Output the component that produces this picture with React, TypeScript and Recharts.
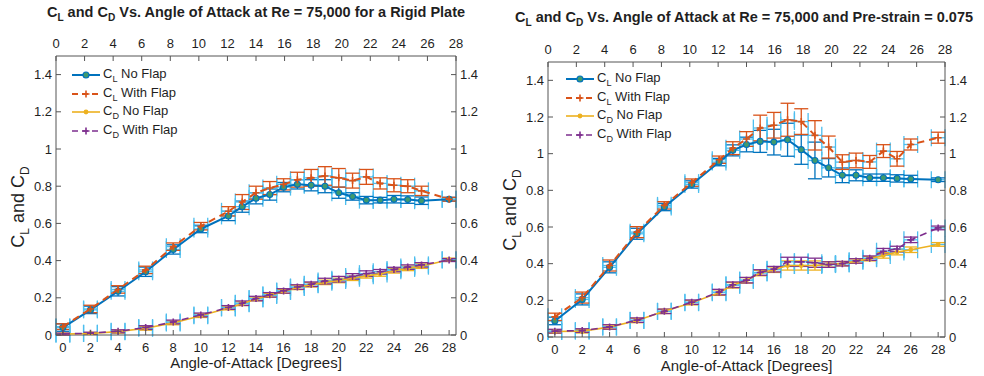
import React from 'react';
import { ComposedChart, Scatter, XAxis, YAxis, ErrorBar, Legend } from 'recharts';

const FONT = '"Liberation Sans", Arial, Helvetica, sans-serif';
const AXIS = '#555555';
const INK = '#1f1f1f';
const BLUE = '#0072BD';
const RED = '#D95319';
const ORANGE = '#EDB120';
const PURPLE = '#7E2F8E';
const SKY = '#4DBEEE';
const GREEN = '#3f9a6e';

// shared axis values
const angles = [0, 2, 4, 6, 8, 10, 12, 13, 14, 15, 16, 17, 18, 19, 20, 21, 22, 23, 24, 25, 26, 28];
const angleTicks = [0, 2, 4, 6, 8, 10, 12, 14, 16, 18, 20, 22, 24, 26, 28];
const coeffTicks = [0, 0.2, 0.4, 0.6, 0.8, 1, 1.2, 1.4];
const angleErr = 0.5;

// rigid plate
const rigidClNoFlap = [0.04, 0.135, 0.235, 0.34, 0.46, 0.57, 0.64, 0.69, 0.735, 0.755, 0.795, 0.81, 0.805, 0.8, 0.765, 0.745, 0.725, 0.725, 0.73, 0.728, 0.722, 0.73];
const rigidClNoFlapErr = [0.02, 0.02, 0.025, 0.025, 0.025, 0.02, 0.025, 0.03, 0.03, 0.03, 0.025, 0.025, 0.03, 0.035, 0.03, 0.02, 0.02, 0.015, 0.02, 0.02, 0.02, 0.01];
const rigidClFlap = [0.045, 0.14, 0.245, 0.35, 0.475, 0.585, 0.665, 0.715, 0.765, 0.79, 0.81, 0.835, 0.845, 0.855, 0.845, 0.83, 0.85, 0.815, 0.805, 0.8, 0.775, 0.73];
const rigidClFlapErr = [0.015, 0.02, 0.02, 0.02, 0.02, 0.02, 0.025, 0.04, 0.035, 0.035, 0.03, 0.04, 0.045, 0.05, 0.05, 0.04, 0.04, 0.03, 0.035, 0.035, 0.025, 0.01];
const rigidCdNoFlap = [0.005, 0.008, 0.018, 0.036, 0.065, 0.104, 0.145, 0.168, 0.194, 0.213, 0.234, 0.256, 0.27, 0.283, 0.293, 0.305, 0.318, 0.328, 0.345, 0.358, 0.37, 0.405];
const rigidCdNoFlapErr = [0.005, 0.005, 0.008, 0.01, 0.01, 0.01, 0.01, 0.01, 0.01, 0.01, 0.01, 0.012, 0.012, 0.012, 0.012, 0.012, 0.012, 0.012, 0.012, 0.012, 0.012, 0.008];
const rigidCdFlap = [0.005, 0.01, 0.02, 0.04, 0.07, 0.108, 0.148, 0.171, 0.196, 0.216, 0.237, 0.258, 0.273, 0.29, 0.3, 0.315, 0.33, 0.34, 0.352, 0.365, 0.377, 0.403];
const rigidCdFlapErr = [0.005, 0.005, 0.008, 0.01, 0.01, 0.01, 0.01, 0.012, 0.012, 0.012, 0.012, 0.012, 0.012, 0.015, 0.015, 0.015, 0.015, 0.012, 0.012, 0.012, 0.012, 0.008];

// pre-strain = 0.075
const strainClNoFlap = [0.087, 0.205, 0.38, 0.563, 0.709, 0.832, 0.954, 1.018, 1.05, 1.067, 1.063, 1.076, 1.022, 0.963, 0.923, 0.882, 0.882, 0.869, 0.869, 0.865, 0.862, 0.858];
const strainClNoFlapErr = [0.02, 0.03, 0.03, 0.03, 0.02, 0.02, 0.02, 0.03, 0.04, 0.06, 0.07, 0.09, 0.08, 0.1, 0.05, 0.04, 0.03, 0.02, 0.02, 0.02, 0.02, 0.01];
const strainClFlap = [0.11, 0.215, 0.39, 0.572, 0.718, 0.842, 0.967, 1.03, 1.08, 1.14, 1.155, 1.185, 1.175, 1.1, 1.036, 0.954, 0.963, 0.955, 1.014, 0.972, 1.05, 1.087];
const strainClFlapErr = [0.02, 0.03, 0.03, 0.03, 0.02, 0.02, 0.02, 0.035, 0.04, 0.07, 0.07, 0.09, 0.07, 0.08, 0.06, 0.04, 0.04, 0.035, 0.035, 0.04, 0.03, 0.03];
const strainCdNoFlap = [0.03, 0.032, 0.054, 0.09, 0.14, 0.187, 0.242, 0.282, 0.309, 0.349, 0.367, 0.39, 0.39, 0.39, 0.396, 0.4, 0.414, 0.427, 0.445, 0.463, 0.476, 0.505];
const strainCdNoFlapErr = [0.01, 0.01, 0.012, 0.012, 0.012, 0.012, 0.015, 0.015, 0.015, 0.015, 0.015, 0.025, 0.025, 0.025, 0.015, 0.012, 0.012, 0.012, 0.015, 0.015, 0.015, 0.01];
const strainCdFlap = [0.032, 0.035, 0.055, 0.092, 0.14, 0.19, 0.245, 0.285, 0.31, 0.352, 0.37, 0.41, 0.41, 0.405, 0.395, 0.4, 0.415, 0.43, 0.468, 0.48, 0.53, 0.595];
const strainCdFlapErr = [0.01, 0.01, 0.012, 0.012, 0.012, 0.012, 0.015, 0.015, 0.015, 0.015, 0.015, 0.025, 0.025, 0.025, 0.015, 0.012, 0.012, 0.012, 0.015, 0.015, 0.015, 0.01];

type MarkerKind = 'circle' | 'plus' | 'dot';

interface SeriesDef {
  coeff: string;
  text: string;
  color: string;
  dash?: string;
  width: number;
  marker: MarkerKind;
  values: number[];
  errors: number[];
}

const toRows = (values: number[], errors: number[]) =>
  angles.map((a, i) => ({ x: a, y: values[i], ye: errors[i], xe: angleErr }));

// lets the axes without a series still know their data range
const angleRows = angles.map((a) => ({ x: a }));

const makeSeries = (clNo: number[], clNoE: number[], clF: number[], clFE: number[], cdNo: number[], cdNoE: number[], cdF: number[], cdFE: number[]): SeriesDef[] => [
  { coeff: 'L', text: 'No Flap', color: BLUE, width: 2, marker: 'circle', values: clNo, errors: clNoE },
  { coeff: 'L', text: 'With Flap', color: RED, dash: '7 5', width: 2, marker: 'plus', values: clF, errors: clFE },
  { coeff: 'D', text: 'No Flap', color: ORANGE, width: 1.6, marker: 'dot', values: cdNo, errors: cdNoE },
  { coeff: 'D', text: 'With Flap', color: PURPLE, dash: '7 5', width: 1.6, marker: 'plus', values: cdF, errors: cdFE },
];

const rigidSeries = makeSeries(rigidClNoFlap, rigidClNoFlapErr, rigidClFlap, rigidClFlapErr, rigidCdNoFlap, rigidCdNoFlapErr, rigidCdFlap, rigidCdFlapErr);
const strainSeries = makeSeries(strainClNoFlap, strainClNoFlapErr, strainClFlap, strainClFlapErr, strainCdNoFlap, strainCdNoFlapErr, strainCdFlap, strainCdFlapErr);

const Marker = ({ kind, cx, cy, color }: { kind: MarkerKind; cx: number; cy: number; color: string }) => {
  if (kind === 'circle') return <circle cx={cx} cy={cy} r={3} fill={GREEN} stroke={color} strokeWidth={1.1} />;
  if (kind === 'dot') return <circle cx={cx} cy={cy} r={2.4} fill={color} />;
  return <path d={`M${cx - 3.5},${cy}H${cx + 3.5}M${cx},${cy - 3.5}V${cy + 3.5}`} stroke={color} strokeWidth={1.6} fill="none" />;
};

// ticks point into the plot, like the original
const TICK_SIZE = 1;
const TICK_MARGIN = 3;
const INNER = 5;
const GAP = TICK_SIZE + TICK_MARGIN;

const AxisTick = (props: any) => {
  const { x, y, payload, side } = props;
  const v = payload.value;
  const t = { fontFamily: FONT, fontSize: 13, fill: INK };
  if (side === 'left') {
    return (
      <g>
        <line x1={x + GAP} x2={x + GAP + INNER} y1={y} y2={y} stroke={AXIS} />
        <text x={x} y={y} dy={4.5} textAnchor="end" {...t}>{v}</text>
      </g>
    );
  }
  if (side === 'right') {
    return (
      <g>
        <line x1={x - GAP} x2={x - GAP - INNER} y1={y} y2={y} stroke={AXIS} />
        <text x={x} y={y} dy={4.5} textAnchor="start" {...t}>{v}</text>
      </g>
    );
  }
  if (side === 'top') {
    return (
      <g>
        <line x1={x} x2={x} y1={y + GAP} y2={y + GAP + INNER} stroke={AXIS} />
        <text x={x} y={y} dy={-4} textAnchor="middle" {...t}>{v}</text>
      </g>
    );
  }
  return (
    <g>
      <line x1={x} x2={x} y1={y - GAP} y2={y - GAP - INNER} stroke={AXIS} />
      <text x={x} y={y} dy={12.5} textAnchor="middle" {...t}>{v}</text>
    </g>
  );
};

const Sub = ({ children }: { children: React.ReactNode }) => (
  <span style={{ fontSize: '0.7em', verticalAlign: '-0.4em' }}>{children}</span>
);

const LegendBox = ({ series }: { series: SeriesDef[] }) => (
  <div style={{ fontFamily: FONT, fontSize: 13, color: INK }}>
    {series.map((s, i) => (
      <div key={i} style={{ display: 'flex', alignItems: 'center', height: 18.5, whiteSpace: 'nowrap' }}>
        <svg width={30} height={14} style={{ marginRight: 2 }}>
          <line x1={1} x2={29} y1={7} y2={7} stroke={s.color} strokeWidth={s.width} strokeDasharray={s.dash ? '6 4' : undefined} />
          <Marker kind={s.marker} cx={15} cy={7} color={s.color} />
        </svg>
        <span>
          C<Sub>{s.coeff}</Sub> {s.text}
        </span>
      </div>
    ))}
  </div>
);

interface PanelProps {
  left: number;
  width: number;
  title: string;
  titleTop: number;
  titleWidth: number;
  series: SeriesDef[];
  top: number;
  bottom: number;
  right: number;
  legendX: number;
  legendY: number;
  xLabelY: number;
  yLabelY: number;
}

const Panel = ({ left, width, title, titleTop, titleWidth, series, top, bottom, right, legendX, legendY, xLabelY, yLabelY }: PanelProps) => (
  <div style={{ position: 'absolute', left, top: 0, width, height: 376 }}>
    <div
      style={{
        position: 'absolute', left: 0, top: titleTop, width: titleWidth, textAlign: 'center',
        fontFamily: FONT, fontWeight: 'bold', fontSize: 14.5, color: INK, whiteSpace: 'nowrap',
      }}
    >
      C<Sub>L</Sub> and C<Sub>D</Sub> {title}
    </div>
    <ComposedChart
      width={width}
      height={376}
      data={angleRows}
      margin={{ top: top - 22, right: width - right - 30, bottom: 376 - bottom - 20, left: 16 }}
    >
      <XAxis
        xAxisId="bottom" type="number" dataKey="x" domain={[0, 28]} ticks={angleTicks}
        height={20} tickSize={TICK_SIZE} tickMargin={TICK_MARGIN} tickLine={false}
        axisLine={{ stroke: AXIS }} tick={(p: any) => <AxisTick {...p} side="bottom" />}
        label={{
          content: (p: any) => (
            <text x={p.viewBox.x + p.viewBox.width / 2} y={xLabelY} textAnchor="middle" fontFamily={FONT} fontSize={15} fill={INK}>
              Angle-of-Attack [Degrees]
            </text>
          ),
        }}
      />
      <XAxis
        xAxisId="top" orientation="top" type="number" dataKey="x" domain={[0, 28]} ticks={angleTicks}
        height={22} tickSize={TICK_SIZE} tickMargin={TICK_MARGIN} tickLine={false}
        axisLine={{ stroke: AXIS }} tick={(p: any) => <AxisTick {...p} side="top" />}
      />
      <YAxis
        yAxisId="left" type="number" domain={[0, 1.5]} ticks={coeffTicks} allowDataOverflow
        width={40} tickSize={TICK_SIZE} tickMargin={TICK_MARGIN} tickLine={false}
        axisLine={{ stroke: AXIS }} tick={(p: any) => <AxisTick {...p} side="left" />}
        label={{
          content: () => (
            <text
              x={24} y={yLabelY} textAnchor="middle" transform={`rotate(-90 24 ${yLabelY})`}
              fontFamily={FONT} fontSize={18} fill={INK}
            >
              C<tspan fontSize={12} dy={5}>L</tspan>
              <tspan dy={-5}> and C</tspan>
              <tspan fontSize={12} dy={5}>D</tspan>
            </text>
          ),
        }}
      />
      <YAxis
        yAxisId="right" orientation="right" type="number" domain={[0, 1.5]} ticks={coeffTicks} allowDataOverflow
        width={30} tickSize={TICK_SIZE} tickMargin={TICK_MARGIN} tickLine={false}
        axisLine={{ stroke: AXIS }} tick={(p: any) => <AxisTick {...p} side="right" />}
      />
      {series.map((s, i) => (
        <Scatter
          key={i}
          xAxisId="bottom"
          yAxisId="left"
          data={toRows(s.values, s.errors)}
          dataKey="y"
          fill={s.color}
          line={{ stroke: s.color, strokeWidth: s.width, strokeDasharray: s.dash }}
          lineType="joint"
          shape={(p: any) => <Marker kind={s.marker} cx={p.cx} cy={p.cy} color={s.color} />}
          isAnimationActive={false}
        >
          <ErrorBar dataKey="xe" direction="x" width={8.5} stroke={SKY} strokeWidth={1.3} />
          <ErrorBar dataKey="ye" direction="y" width={7} stroke={s.color} strokeWidth={1.3} />
        </Scatter>
      ))}
      <Legend
        layout="vertical"
        align="center"
        verticalAlign="middle"
        wrapperStyle={{ left: legendX, top: legendY, width: 'auto', height: 'auto' }}
        content={() => <LegendBox series={series} />}
      />
    </ComposedChart>
  </div>
);

export default function App() {
  return (
    <div style={{ position: 'absolute', left: 0, top: 0, width: 984, height: 376, background: '#fff', overflow: 'hidden' }}>
      <Panel
        left={0} width={490} title="Vs. Angle of Attack at Re = 75,000 for a Rigid Plate" titleTop={4} titleWidth={512}
        series={rigidSeries} top={56} bottom={335} right={456}
        legendX={71} legendY={66} xLabelY={368} yLabelY={207}
      />
      <Panel
        left={492} width={492} title="Vs. Angle of Attack at Re = 75,000 and Pre-strain = 0.075" titleTop={9} titleWidth={504}
        series={strainSeries} top={62} bottom={337} right={453}
        legendX={73} legendY={70} xLabelY={371} yLabelY={210}
      />
    </div>
  );
}
